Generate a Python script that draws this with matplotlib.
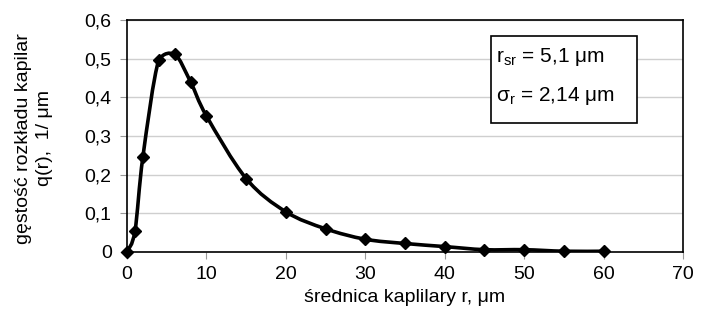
import numpy as np
import matplotlib
matplotlib.use("Agg")
import matplotlib.pyplot as plt
from matplotlib.path import Path
from matplotlib.patches import PathPatch, Rectangle
from matplotlib.ticker import FuncFormatter

plt.rcParams['font.family'] = ['Liberation Sans', 'DejaVu Sans']

r = [0, 1, 2, 4, 6, 8, 10, 15, 20, 25, 30, 35, 40, 45, 50, 55, 60]
q = [0.0, 0.054, 0.246, 0.497, 0.512, 0.440, 0.352, 0.190, 0.104, 0.060,
     0.033, 0.022, 0.014, 0.006, 0.006, 0.002, 0.002]
x_ticks = [0, 10, 20, 30, 40, 50, 60, 70]
y_ticks = [0, 0.1, 0.2, 0.3, 0.4, 0.5, 0.6]

FS = 14

fig = plt.figure(figsize=(7.08, 3.31), dpi=100)
ax = fig.add_axes([127/708, 1-252/331, (683-127)/708, (252-20)/331])

# smoothed line (Bezier through the data points, like a spreadsheet's smoothed line)
pts = np.column_stack([r, q])
verts = [tuple(pts[0])]
codes = [Path.MOVETO]
n = len(pts)
for i in range(n-1):
    p0 = pts[i-1] if i > 0 else pts[i]
    p1 = pts[i]
    p2 = pts[i+1]
    p3 = pts[i+2] if i+2 < n else pts[i+1]
    c1 = p1 + (p2 - p0)/6
    c2 = p2 - (p3 - p1)/6
    lo, hi = min(p1[1], p2[1]) - 0.004, max(p1[1], p2[1]) + 0.004
    c1[1] = np.clip(c1[1], lo, hi)
    c2[1] = np.clip(c2[1], lo, hi)
    verts += [tuple(c1), tuple(c2), tuple(p2)]
    codes += [Path.CURVE4]*3
ax.add_patch(PathPatch(Path(verts, codes), fill=False, lw=2.6, color='black',
                       zorder=3, capstyle='round', joinstyle='round'))
ax.plot(r, q, linestyle='none', marker='D', markersize=6, color='black', zorder=4, clip_on=False)

ax.set_xlim(0, 70)
ax.set_ylim(0, 0.6)
ax.set_xticks(x_ticks)
ax.set_yticks(y_ticks)
fmt = FuncFormatter(lambda v, p: ('%g' % round(v, 2)).replace('.', ','))
ax.xaxis.set_major_formatter(fmt)
ax.yaxis.set_major_formatter(fmt)
ax.tick_params(axis='both', labelsize=FS, direction='out', length=5, width=0.8, color='#999999')
ax.tick_params(axis='x', pad=5)
ax.tick_params(axis='y', pad=6)
ax.grid(axis='y', color='#cfcfcf', lw=1)
ax.set_axisbelow(True)
for s in ax.spines.values():
    s.set_color('black')
    s.set_linewidth(1.2)

ax.set_xlabel('średnica kaplilary r, μm', fontsize=FS)
ax.xaxis.set_label_coords(0.5, -(297-252)/232, transform=ax.transAxes)
ax.xaxis.label.set_va('center')
ax.set_ylabel('gęstość rozkładu kapilar\nq(r),  1/ μm', fontsize=FS, linespacing=1.3)
ax.yaxis.set_label_coords(-(127-34)/556, 0.49)
ax.yaxis.label.set_va('center')

fig.patches.append(Rectangle((491/708, 1-123/331), (637-491)/708, (123-36)/331,
                             transform=fig.transFigure, fill=True, facecolor='white',
                             edgecolor='black', lw=1.2, zorder=5))
fig.text(496/708, 1-57/331, r'r$_{\mathregular{sr}}$ = 5,1 μm', fontsize=FS+1, va='center', ha='left', zorder=6)
fig.text(496/708, 1-96/331, r'σ$_{\mathregular{r}}$ = 2,14 μm', fontsize=FS+1, va='center', ha='left', zorder=6)

fig.savefig('out.png', dpi=100)
